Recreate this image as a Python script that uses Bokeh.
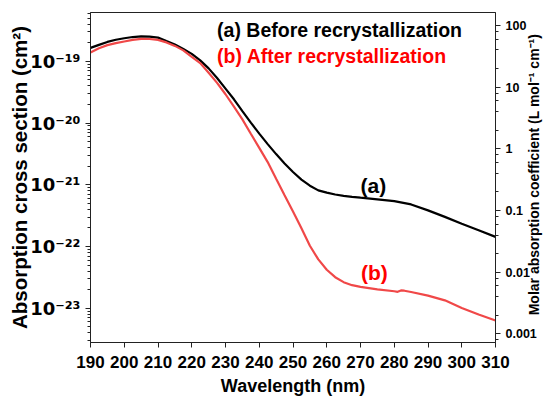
import math
from bokeh.plotting import figure
from bokeh.models import LogAxis, Range1d, LogScale, Label, CustomJSTickFormatter
from bokeh.embed import file_html
from bokeh.resources import INLINE

# ---- data ----
wavelength_a = [190, 192.5, 195, 197.5, 200, 202.5, 205, 207.5, 210, 212.5, 215, 217.5,
                220, 222.5, 225, 227.5, 230, 232.5, 235, 237.5, 240, 242.5, 245, 247.5,
                250, 252.5, 255, 257.5, 260, 262.5, 265, 267.5, 270, 275, 280, 285,
                290, 295, 300, 305, 310]
before_recryst = [1.652e-19, 1.847e-19, 2.065e-19, 2.242e-19, 2.370e-19, 2.478e-19,
                  2.534e-19, 2.515e-19, 2.424e-19, 2.135e-19, 1.882e-19, 1.591e-19,
                  1.321e-19, 1.038e-19, 7.70e-20, 5.37e-20, 3.61e-20, 2.43e-20,
                  1.557e-20, 1.015e-20, 6.74e-21, 4.56e-21, 3.14e-21, 2.21e-21,
                  1.61e-21, 1.213e-21, 9.67e-22, 8.12e-22, 7.45e-22, 6.95e-22,
                  6.60e-22, 6.37e-22, 6.17e-22, 5.81e-22, 5.43e-22, 4.80e-22,
                  3.85e-22, 3.02e-22, 2.33e-22, 1.83e-22, 1.43e-22]
wavelength_b = [190, 192.5, 195, 197.5, 200, 202.5, 205, 207.5, 210, 212.5, 215, 217.5,
                220, 222.5, 225, 227.5, 230, 232.5, 235, 237.5, 240, 242.5, 245, 247.5,
                250, 252.5, 255, 257.5, 260, 262.5, 265, 267.5, 270, 275, 280, 281,
                282, 283, 285, 290, 295, 300, 305, 310]
after_recryst = [1.397e-19, 1.633e-19, 1.833e-19, 1.975e-19, 2.096e-19, 2.225e-19,
                 2.310e-19, 2.301e-19, 2.225e-19, 2.027e-19, 1.780e-19, 1.505e-19,
                 1.182e-19, 9.39e-20, 6.54e-20, 4.48e-20, 2.93e-20, 1.847e-20,
                 1.148e-20, 6.72e-21, 3.97e-21, 2.33e-21, 1.250e-21, 6.77e-22,
                 3.70e-22, 1.968e-22, 1.026e-22, 6.17e-23, 4.20e-23, 3.18e-23,
                 2.64e-23, 2.36e-23, 2.21e-23, 2.02e-23, 1.88e-23, 1.84e-23,
                 1.94e-23, 1.92e-23, 1.83e-23, 1.60e-23, 1.34e-23, 1.01e-23,
                 7.9e-24, 6.30e-24]
x_ticks = [190, 200, 210, 220, 230, 240, 250, 260, 270, 280, 290, 300, 310]
left_tick_labels = ["10⁻²³", "10⁻²²", "10⁻²¹", "10⁻²⁰", "10⁻¹⁹"]
right_tick_labels = ["0.001", "0.01", "0.1", "1", "10", "100"]
# conversion cross section (cm^2) -> molar absorption coefficient (L mol^-1 cm^-1)
sigma_to_eps = 6.022e23 / (1000 * math.log(10))

y_lo, y_hi = 2.78e-24, 6.19e-19
FONT = "Liberation Sans"

p = figure(width=552, height=398, x_range=(190, 310), y_range=(y_lo, y_hi),
           y_axis_type="log", output_backend="svg", toolbar_location=None,
           min_border_left=90, min_border_right=54, min_border_top=12, min_border_bottom=55)
p.xgrid.grid_line_color = None
p.ygrid.grid_line_color = None
p.outline_line_color = "#222222"
p.outline_line_alpha = 1.0
p.background_fill_color = "white"

p.extra_y_ranges = {"molar": Range1d(y_lo * sigma_to_eps, y_hi * sigma_to_eps)}
p.extra_y_scales = {"molar": LogScale()}
right = LogAxis(y_range_name="molar")
right.formatter = CustomJSTickFormatter(args=dict(labels=right_tick_labels), code="""
    const i = Math.round(Math.log10(tick)) + 3;
    return labels[i];
""")
p.add_layout(right, "right")

p.yaxis[0].formatter = CustomJSTickFormatter(args=dict(labels=left_tick_labels), code="""
    const i = Math.round(Math.log10(tick)) + 23;
    return labels[i];
""")

p.xaxis.ticker = x_ticks

for ax in [p.xaxis[0], p.yaxis[0], right]:
    ax.axis_line_color = "#222222"
    ax.major_tick_line_color = "#222222"
    ax.minor_tick_line_color = "#222222"
    ax.major_tick_in = 0
    ax.major_tick_out = 5
    ax.minor_tick_in = 0
    ax.minor_tick_out = 3
    ax.major_label_text_font = FONT
    ax.major_label_text_font_style = "bold"
    ax.major_label_text_color = "black"
    ax.axis_label_text_font = FONT
    ax.axis_label_text_font_style = "bold"
    ax.axis_label_text_color = "black"
p.xaxis.minor_tick_line_color = None

p.xaxis.axis_label = "Wavelength (nm)"
p.xaxis.major_label_text_font_size = "17px"
p.xaxis.axis_label_text_font_size = "18px"
p.xaxis.major_label_standoff = 8
p.xaxis.axis_label_standoff = 5

p.yaxis[0].axis_label = "Absorption cross section (cm²)"
p.yaxis[0].major_label_text_font = "DejaVu Sans"
p.yaxis[0].major_label_text_font_size = "18px"
p.yaxis[0].axis_label_text_font_size = "20.5px"
p.yaxis[0].major_label_standoff = 5
p.yaxis[0].axis_label_standoff = -4

# right-hand title reads bottom-to-top, starting a little above the lower frame edge
right.axis_label = "\u00a0" * 7 + "Molar absorption coefficient (L mol⁻¹ cm⁻¹)"
right.major_label_text_font_size = "12.5px"
right.axis_label_text_font_size = "14px"
right.major_label_standoff = 5
right.axis_label_standoff = -6
props = right.properties()
if "axis_label_orientation" in props:
    right.axis_label_orientation = math.pi / 2
if "axis_label_align" in props:
    right.axis_label_align = "start"

p.line(wavelength_a, before_recryst, line_color="black", line_width=2.2)
p.line(wavelength_b, after_recryst, line_color="#f04848", line_width=2.2)

lab_style = dict(text_font=FONT, text_font_style="bold")
p.add_layout(Label(x=227.5, y=3.17e-19, text="(a) Before recrystallization",
                   text_color="black", text_baseline="middle",
                   text_font_size="19.5px", **lab_style))
p.add_layout(Label(x=227.5, y=1.2e-19, text="(b) After recrystallization",
                   text_color="#ff0000", text_baseline="middle",
                   text_font_size="19.5px", **lab_style))
p.add_layout(Label(x=273.8, y=9.9e-22, text="(a)", text_color="black",
                   text_align="center", text_baseline="middle",
                   text_font_size="21px", **lab_style))
p.add_layout(Label(x=274.1, y=3.76e-23, text="(b)", text_color="#ff0000",
                   text_align="center", text_baseline="middle",
                   text_font_size="21px", **lab_style))

open("out.html", "w").write(file_html(p, INLINE))
